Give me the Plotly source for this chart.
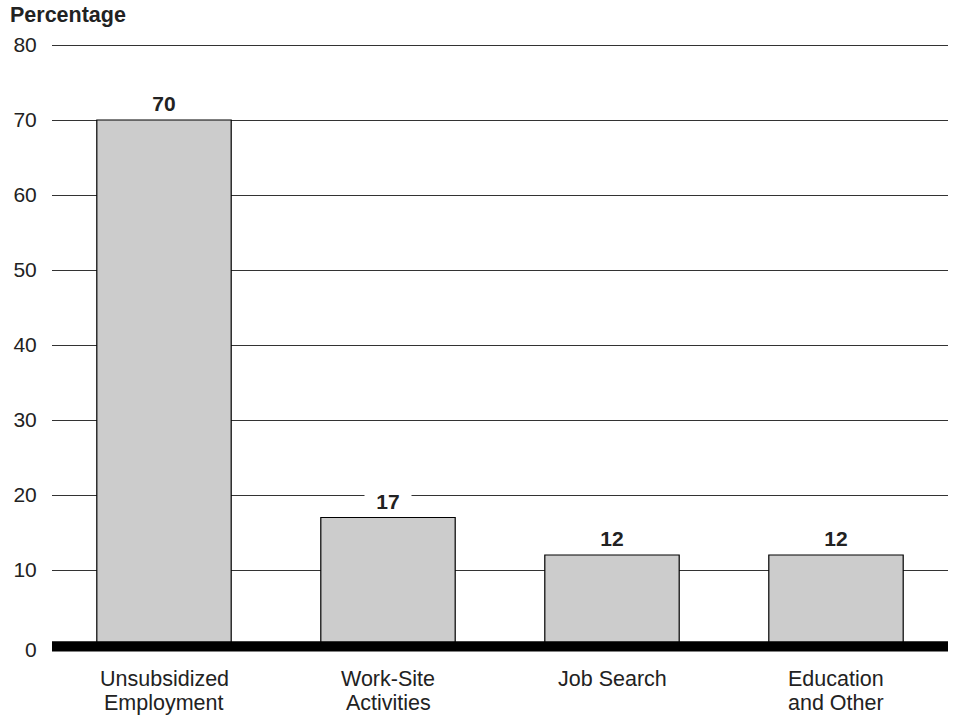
import plotly.graph_objects as go

categories = ["Unsubsidized<br>Employment", "Work-Site<br>Activities", "Job Search", "Education<br>and Other"]
values = [70, 17, 12, 12]
value_labels = ["70", "17", "12", "12"]
y_ticks = [0, 10, 20, 30, 40, 50, 60, 70, 80]

TXT = "#222222"
FONT = "Liberation Sans, Arial, sans-serif"

fig = go.Figure()
fig.add_trace(go.Bar(
    x=categories, y=values, width=0.6,
    marker=dict(color="#cccccc", line=dict(color="#000000", width=1.2)),
    hoverinfo="skip", showlegend=False,
))

for c, v, t in zip(categories, values, value_labels):
    fig.add_annotation(
        x=c, y=v, xref="x", yref="y", text="<b>%s</b>" % t,
        showarrow=False, yanchor="bottom", yshift=4,
        font=dict(family=FONT, size=21, color=TXT),
        bgcolor="white", width=46, height=24, borderpad=0,
    )

# category labels, one annotation per line for tight line spacing
for c in categories:
    for i, line in enumerate(c.split("<br>")):
        fig.add_annotation(
            x=c, y=0, xref="x", yref="paper", text=line,
            showarrow=False, yanchor="middle", yshift=-25 - 24 * i,
            font=dict(family=FONT, size=21.5, color=TXT),
        )

# thick baseline
fig.add_shape(type="rect", xref="paper", yref="y", x0=0, x1=1, y0=-0.87, y1=0.5,
              fillcolor="black", line=dict(width=0), layer="above")

fig.add_annotation(
    x=0, y=1, xref="paper", yref="paper", xanchor="left", yanchor="middle",
    xshift=-44, yshift=27,
    text="<b>Percentage</b>", showarrow=False,
    font=dict(family=FONT, size=21.5, color=TXT),
)

tick_pos = [v if v != 0 else -0.65 for v in y_ticks]

fig.update_layout(
    width=956, height=717,
    margin=dict(l=52, r=8, t=42, b=63),
    paper_bgcolor="white", plot_bgcolor="white",
    font=dict(family=FONT, size=20, color=TXT),
    xaxis=dict(
        showgrid=False, zeroline=False, showline=False,
        showticklabels=False, ticks="",
    ),
    yaxis=dict(
        range=[-1.2, 80.4], tickvals=tick_pos, ticktext=[str(v) for v in y_ticks],
        showgrid=True, gridcolor="#333333", gridwidth=1,
        zeroline=False, showline=False,
        ticks="outside", ticklen=10, tickcolor="rgba(0,0,0,0)",
        tickfont=dict(family=FONT, size=21, color=TXT),
    ),
)

fig.write_html("out.html")
